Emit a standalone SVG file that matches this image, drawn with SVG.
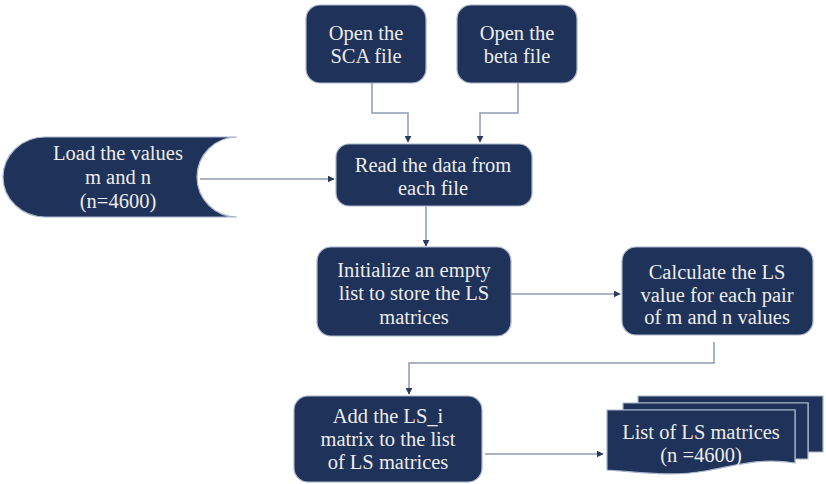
<svg xmlns="http://www.w3.org/2000/svg" width="826" height="484" viewBox="0 0 826 484">
<defs>
<style>
.box{fill:#1F3259;stroke:#A9B6CC;stroke-width:1.2}
.t{font-family:'Liberation Serif','DejaVu Serif',serif;font-size:20.5px;fill:#ECECEC;text-anchor:middle}
.c{fill:none;stroke:#8C9BB5;stroke-width:1.5}
</style>
<marker id="ah" viewBox="0 0 10 10" refX="9" refY="5" markerWidth="7" markerHeight="7" markerUnits="userSpaceOnUse" orient="auto">
<path d="M0,0 L10,5 L0,10 Z" fill="#2B3A5C"/>
</marker>
</defs>
<rect width="826" height="484" fill="#FFFFFF"/>
<g id="connectors">
<path class="c" d="M372,83 V113 H408 V142" marker-end="url(#ah)"/>
<path class="c" d="M518,83 V113 H480 V142" marker-end="url(#ah)"/>
<path class="c" d="M200,179 H334" marker-end="url(#ah)"/>
<path class="c" d="M426,206 V246" marker-end="url(#ah)"/>
<path class="c" d="M511,294 H620" marker-end="url(#ah)"/>
<path class="c" d="M714,342 V363 H409 V394" marker-end="url(#ah)"/>
<path class="c" d="M485,454 H603" marker-end="url(#ah)"/>
</g>
<g id="open-sca">
<rect class="box" x="306" y="5" width="120" height="78" rx="14"/>
<text class="t" x="366" y="40">Open the</text>
<text class="t" x="366" y="63">SCA file</text>
</g>
<g id="open-beta">
<rect class="box" x="457" y="5" width="120" height="78" rx="14"/>
<text class="t" x="517" y="40">Open the</text>
<text class="t" x="517" y="63">beta file</text>
</g>
<g id="load-values">
<path class="box" d="M45,137 H237 A40 40 0 0 0 237,217 H45 A42 40 0 0 1 45,137 Z"/>
<text class="t" x="118" y="160">Load the values</text>
<text class="t" x="118" y="184">m and n</text>
<text class="t" x="118" y="208">(n=4600)</text>
</g>
<g id="read-data">
<rect class="box" x="336" y="144" width="196" height="62" rx="13"/>
<text class="t" x="433" y="172">Read the data from</text>
<text class="t" x="433" y="195">each file</text>
</g>
<g id="initialize">
<rect class="box" x="317" y="247" width="194" height="89" rx="14"/>
<text class="t" x="414" y="277">Initialize an empty</text>
<text class="t" x="414" y="300">list to store the LS</text>
<text class="t" x="414" y="324">matrices</text>
</g>
<g id="calculate">
<rect class="box" x="622" y="247" width="191" height="88" rx="14"/>
<text class="t" x="717" y="279">Calculate the LS</text>
<text class="t" x="717" y="302">value for each pair</text>
<text class="t" x="717" y="324">of m and n values</text>
</g>
<g id="add-matrix">
<rect class="box" x="294" y="396" width="188" height="86" rx="14"/>
<text class="t" x="388" y="423">Add the LS_i</text>
<text class="t" x="388" y="446">matrix to the list</text>
<text class="t" x="388" y="469">of LS matrices</text>
</g>
<g id="list-ls">
<path class="box" d="M638,396 H823 V452 H808 V403 H638 Z"/>
<path class="box" d="M623,403 H808 V459 H795 V410 H623 Z"/>
<path class="box" d="M607,410 H795 V463 C760,457 735,466 705,471 C670,477 640,472 607,470 Z"/>
<text class="t" x="701" y="439">List of LS matrices</text>
<text class="t" x="701" y="462">(n =4600)</text>
</g>
</svg>
